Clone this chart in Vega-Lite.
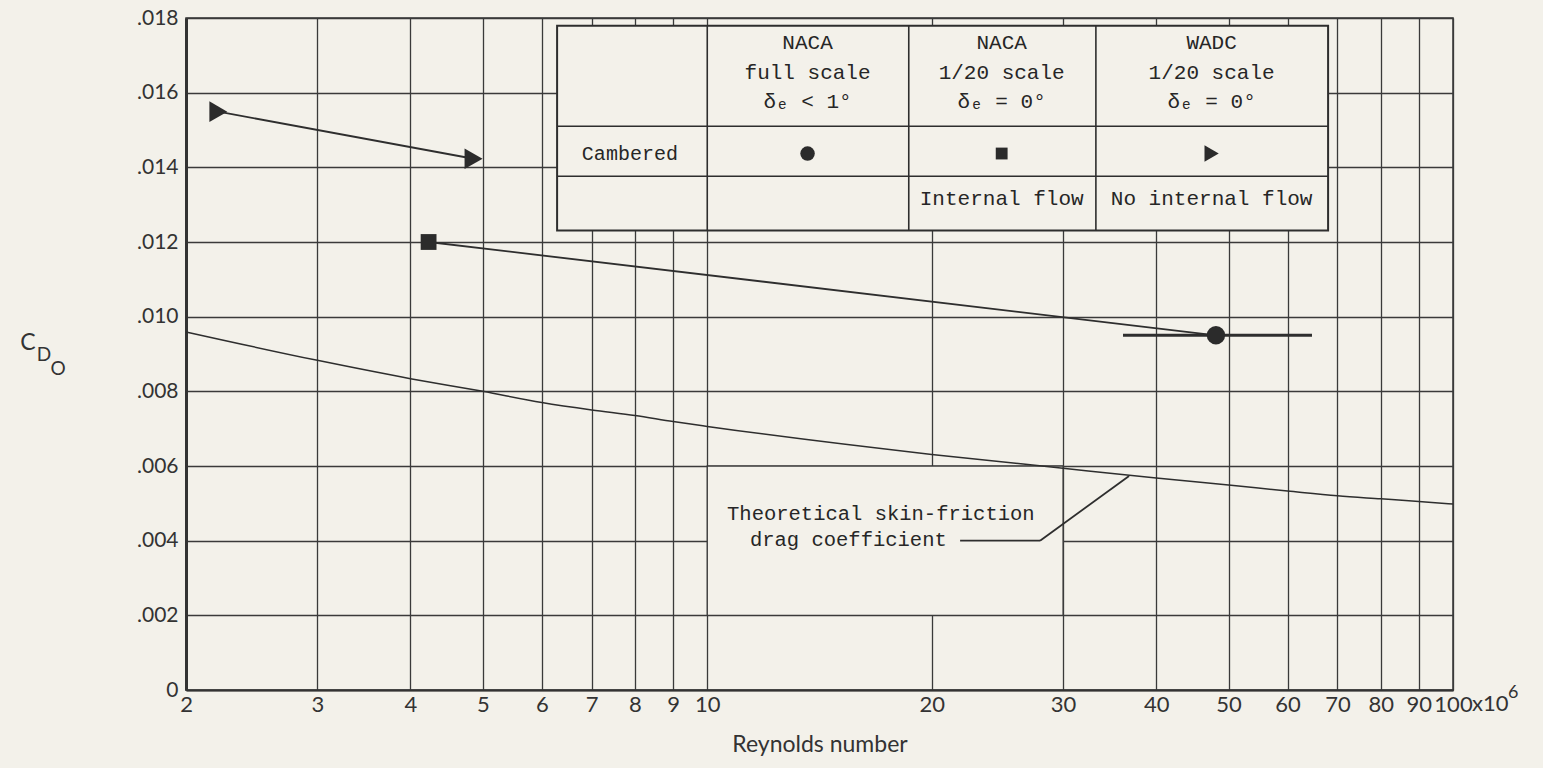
{
  "$schema": "https://vega.github.io/schema/vega-lite/v6.json",
  "autosize": {"type": "none"},
  "padding": {"left": 186, "top": 18, "right": 90, "bottom": 78},
  "width": 1267,
  "height": 672,
  "background": "#f3f1ea",
  "config": {
    "view": {"stroke": "#333333", "strokeWidth": 1.5},
    "axis": {
      "labelFont": "Lato",
      "titleFont": "Lato",
      "labelColor": "#333333",
      "titleColor": "#333333",
      "gridColor": "#3a3a3a",
      "gridWidth": 1.3,
      "gridOpacity": 1,
      "domainColor": "#333333",
      "ticks": false
    }
  },
  "datasets": {
    "theory": [
      {"re": 2, "cd": 0.00959}, {"re": 3, "cd": 0.00883}, {"re": 4, "cd": 0.00834},
      {"re": 5, "cd": 0.0080}, {"re": 6, "cd": 0.0077}, {"re": 7, "cd": 0.0075},
      {"re": 8, "cd": 0.00735}, {"re": 9, "cd": 0.00719}, {"re": 10, "cd": 0.00706},
      {"re": 20, "cd": 0.00631}, {"re": 30, "cd": 0.00594}, {"re": 40, "cd": 0.00568},
      {"re": 50, "cd": 0.00549}, {"re": 60, "cd": 0.00533}, {"re": 70, "cd": 0.0052},
      {"re": 80, "cd": 0.00512}, {"re": 90, "cd": 0.00505}, {"re": 100, "cd": 0.00498}
    ],
    "points": [
      {"series": "WADC 1/20 scale", "re": 2.21, "cd": 0.01549},
      {"series": "WADC 1/20 scale", "re": 4.86, "cd": 0.01423},
      {"series": "NACA 1/20 scale", "re": 4.23, "cd": 0.0120},
      {"series": "NACA full scale", "re": 48.1, "cd": 0.0095}
    ],
    "segments": [
      {"seg": "WADC fairing", "x": 2.21, "x2": 4.86, "y": 0.01549, "y2": 0.01423},
      {"seg": "NACA fairing", "x": 4.23, "x2": 48.1, "y": 0.0120, "y2": 0.0095},
      {"seg": "leader horizontal", "x": 21.83, "x2": 27.94, "y": 0.004, "y2": 0.004},
      {"seg": "leader diagonal", "x": 27.94, "x2": 36.78, "y": 0.004, "y2": 0.00573}
    ],
    "range": [
      {"seg": "full scale range", "x": 36.1, "x2": 64.7, "y": 0.0095, "y2": 0.0095}
    ],
    "mask": [
      {"x": 10, "x2": 30, "y": 0.002, "y2": 0.006}
    ],
    "tablebox": [
      {"x": 6.29, "x2": 68.0, "y": 0.01231, "y2": 0.01779}
    ],
    "tablelines": [
      {"x": 10, "x2": 10, "y": 0.01231, "y2": 0.01779},
      {"x": 18.63, "x2": 18.63, "y": 0.01231, "y2": 0.01779},
      {"x": 33.2, "x2": 33.2, "y": 0.01231, "y2": 0.01779},
      {"x": 6.29, "x2": 68.0, "y": 0.0151, "y2": 0.0151},
      {"x": 6.29, "x2": 68.0, "y": 0.01376, "y2": 0.01376}
    ],
    "tabletext": [
      {"x": 13.63, "y": 0.01732, "t": "NACA"},
      {"x": 13.63, "y": 0.01653, "t": "full scale"},
      {"x": 13.63, "y": 0.01574, "t": "δₑ < 1°"},
      {"x": 24.82, "y": 0.01732, "t": "NACA"},
      {"x": 24.82, "y": 0.01653, "t": "1/20 scale"},
      {"x": 24.82, "y": 0.01574, "t": "δₑ = 0°"},
      {"x": 47.46, "y": 0.01732, "t": "WADC"},
      {"x": 47.46, "y": 0.01653, "t": "1/20 scale"},
      {"x": 47.46, "y": 0.01574, "t": "δₑ = 0°"},
      {"x": 24.82, "y": 0.01314, "t": "Internal flow"},
      {"x": 47.46, "y": 0.01314, "t": "No internal flow"}
    ],
    "rowlabel": [
      {"x": 6.79, "y": 0.01437, "t": "Cambered"}
    ],
    "tablesymbols": [
      {"series": "NACA full scale", "x": 13.63, "y": 0.01437},
      {"series": "NACA 1/20 scale", "x": 24.82, "y": 0.01437},
      {"series": "WADC 1/20 scale", "x": 47.46, "y": 0.01437}
    ],
    "note": [
      {"x": 17.09, "y": 0.00472, "t": "Theoretical skin-friction"},
      {"x": 15.46, "y": 0.00403, "t": "drag coefficient"}
    ],
    "ytitle": [
      {"x": 1.228, "y": 0.00921, "part": "C"}
    ],
    "xunit": [
      {"x": 100, "y": 0, "t": "x10"}
    ]
  },
  "layer": [
    {
      "data": {"name": "mask"},
      "mark": {"type": "rect", "fill": "#f3f1ea", "stroke": "#3a3a3a", "strokeWidth": 1.3},
      "encoding": {
        "x": {"field": "x", "type": "quantitative",
          "scale": {"type": "log", "domain": [2, 100], "nice": false},
          "axis": {
            "values": [2, 3, 4, 5, 6, 7, 8, 9, 10, 20, 30, 40, 50, 60, 70, 80, 90, 100],
            "format": "d",
            "labelFontSize": 22,
            "labelPadding": 4,
            "labelFlush": false,
            "domainWidth": 2,
            "grid": true,
            "title": "Reynolds number",
            "titleFontSize": 23,
            "titleFontWeight": "normal",
            "titlePadding": 18
          }
        },
        "x2": {"field": "x2"},
        "y": {"field": "y", "type": "quantitative",
          "scale": {"domain": [0, 0.018], "nice": false, "zero": true},
          "axis": {
            "values": [0, 0.002, 0.004, 0.006, 0.008, 0.01, 0.012, 0.014, 0.016, 0.018],
            "labelExpr": "datum.value == 0 ? '0' : replace(format(datum.value, '.3f'), '0.', '.')",
            "labelFontSize": 21,
            "labelPadding": 8,
            "labelFlush": false,
            "domainWidth": 3,
            "grid": true,
            "title": null
          }
        },
        "y2": {"field": "y2"}
      }
    },
    {
      "data": {"name": "tablebox"},
      "mark": {"type": "rect", "fill": "#f3f1ea", "stroke": "#2e2e2e", "strokeWidth": 2},
      "encoding": {
        "x": {"field": "x", "type": "quantitative"},
        "x2": {"field": "x2"},
        "y": {"field": "y", "type": "quantitative"},
        "y2": {"field": "y2"}
      }
    },
    {
      "data": {"name": "tablelines"},
      "mark": {"type": "rule", "color": "#2e2e2e", "strokeWidth": 1.6},
      "encoding": {
        "x": {"field": "x", "type": "quantitative"},
        "x2": {"field": "x2"},
        "y": {"field": "y", "type": "quantitative"},
        "y2": {"field": "y2"}
      }
    },
    {
      "data": {"name": "theory"},
      "mark": {"type": "line", "color": "#2e2e2e", "strokeWidth": 1.5, "interpolate": "monotone"},
      "encoding": {
        "x": {"field": "re", "type": "quantitative"},
        "y": {"field": "cd", "type": "quantitative"}
      }
    },
    {
      "data": {"name": "segments"},
      "mark": {"type": "rule", "color": "#2e2e2e", "strokeWidth": 1.8},
      "encoding": {
        "x": {"field": "x", "type": "quantitative"},
        "x2": {"field": "x2"},
        "y": {"field": "y", "type": "quantitative"},
        "y2": {"field": "y2"}
      }
    },
    {
      "data": {"name": "range"},
      "mark": {"type": "rule", "color": "#2e2e2e", "strokeWidth": 3},
      "encoding": {
        "x": {"field": "x", "type": "quantitative"},
        "x2": {"field": "x2"},
        "y": {"field": "y", "type": "quantitative"},
        "y2": {"field": "y2"}
      }
    },
    {
      "data": {"name": "points"},
      "transform": [{"filter": "datum.series == 'NACA full scale'"}],
      "mark": {"type": "point", "shape": "circle", "size": 340, "filled": true, "opacity": 1, "color": "#2b2b2b"},
      "encoding": {
        "x": {"field": "re", "type": "quantitative"},
        "y": {"field": "cd", "type": "quantitative"}
      }
    },
    {
      "data": {"name": "points"},
      "transform": [{"filter": "datum.series == 'NACA 1/20 scale'"}],
      "mark": {"type": "point", "shape": "square", "size": 250, "filled": true, "opacity": 1, "color": "#2b2b2b"},
      "encoding": {
        "x": {"field": "re", "type": "quantitative"},
        "y": {"field": "cd", "type": "quantitative"}
      }
    },
    {
      "data": {"name": "points"},
      "transform": [{"filter": "datum.series == 'WADC 1/20 scale'"}],
      "mark": {"type": "point", "shape": "triangle-right", "size": 430, "filled": true, "opacity": 1, "color": "#2b2b2b"},
      "encoding": {
        "x": {"field": "re", "type": "quantitative"},
        "y": {"field": "cd", "type": "quantitative"}
      }
    },
    {
      "data": {"name": "tablesymbols"},
      "transform": [{"filter": "datum.series == 'NACA full scale'"}],
      "mark": {"type": "point", "shape": "circle", "size": 210, "filled": true, "opacity": 1, "color": "#2b2b2b"},
      "encoding": {
        "x": {"field": "x", "type": "quantitative"},
        "y": {"field": "y", "type": "quantitative"}
      }
    },
    {
      "data": {"name": "tablesymbols"},
      "transform": [{"filter": "datum.series == 'NACA 1/20 scale'"}],
      "mark": {"type": "point", "shape": "square", "size": 140, "filled": true, "opacity": 1, "color": "#2b2b2b"},
      "encoding": {
        "x": {"field": "x", "type": "quantitative"},
        "y": {"field": "y", "type": "quantitative"}
      }
    },
    {
      "data": {"name": "tablesymbols"},
      "transform": [{"filter": "datum.series == 'WADC 1/20 scale'"}],
      "mark": {"type": "point", "shape": "triangle-right", "size": 270, "filled": true, "opacity": 1, "color": "#2b2b2b"},
      "encoding": {
        "x": {"field": "x", "type": "quantitative"},
        "y": {"field": "y", "type": "quantitative"}
      }
    },
    {
      "data": {"name": "tabletext"},
      "mark": {"type": "text", "font": "Liberation Mono", "fontSize": 21, "color": "#262626", "align": "center", "baseline": "middle"},
      "encoding": {
        "x": {"field": "x", "type": "quantitative"},
        "y": {"field": "y", "type": "quantitative"},
        "text": {"field": "t"}
      }
    },
    {
      "data": {"name": "rowlabel"},
      "mark": {"type": "text", "font": "Liberation Mono", "fontSize": 20, "color": "#262626", "align": "left", "baseline": "middle"},
      "encoding": {
        "x": {"field": "x", "type": "quantitative"},
        "y": {"field": "y", "type": "quantitative"},
        "text": {"field": "t"}
      }
    },
    {
      "data": {"name": "note"},
      "mark": {"type": "text", "font": "Liberation Mono", "fontSize": 20.5, "color": "#262626", "align": "center", "baseline": "middle"},
      "encoding": {
        "x": {"field": "x", "type": "quantitative"},
        "y": {"field": "y", "type": "quantitative"},
        "text": {"field": "t"}
      }
    },
    {
      "data": {"name": "ytitle"},
      "mark": {"type": "text", "font": "Lato", "fontSize": 23, "color": "#333333", "align": "center", "baseline": "middle", "dy": -3},
      "encoding": {
        "x": {"field": "x", "type": "quantitative"},
        "y": {"field": "y", "type": "quantitative"},
        "text": {"value": "C"}
      }
    },
    {
      "data": {"name": "ytitle"},
      "mark": {"type": "text", "font": "Lato", "fontSize": 19, "color": "#333333", "align": "center", "baseline": "middle", "dx": 16, "dy": 9},
      "encoding": {
        "x": {"field": "x", "type": "quantitative"},
        "y": {"field": "y", "type": "quantitative"},
        "text": {"value": "D"}
      }
    },
    {
      "data": {"name": "ytitle"},
      "mark": {"type": "text", "font": "Lato", "fontSize": 19, "color": "#333333", "align": "center", "baseline": "middle", "dx": 30, "dy": 23},
      "encoding": {
        "x": {"field": "x", "type": "quantitative"},
        "y": {"field": "y", "type": "quantitative"},
        "text": {"value": "O"}
      }
    },
    {
      "data": {"name": "xunit"},
      "mark": {"type": "text", "font": "Lato", "fontSize": 22, "color": "#333333", "align": "left", "baseline": "top", "dx": 19, "dy": 4},
      "encoding": {
        "x": {"field": "x", "type": "quantitative"},
        "y": {"field": "y", "type": "quantitative"},
        "text": {"field": "t"}
      }
    },
    {
      "data": {"name": "xunit"},
      "mark": {"type": "text", "font": "Lato", "fontSize": 18, "color": "#333333", "align": "left", "baseline": "top", "dx": 55, "dy": -6},
      "encoding": {
        "x": {"field": "x", "type": "quantitative"},
        "y": {"field": "y", "type": "quantitative"},
        "text": {"value": "6"}
      }
    }
  ]
}
